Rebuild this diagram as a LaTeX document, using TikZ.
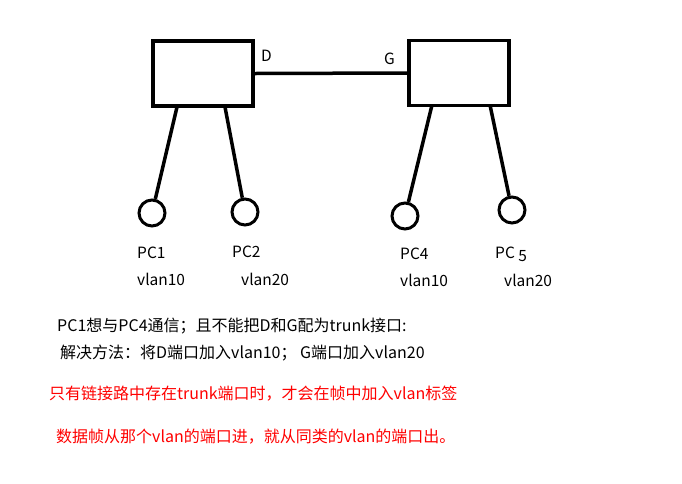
\documentclass[tikz,border=0pt]{standalone}
\usepackage{fontspec}
\setmainfont{Noto Sans CJK SC}
\begin{document}
\begin{tikzpicture}[x=1pt,y=-1pt,
  sw/.style={draw=black,line width=3.5pt,minimum width=100pt,minimum height=65pt,inner sep=0pt},
  pc/.style={draw=black,line width=3pt,circle,minimum size=26pt,inner sep=0pt},
  wire/.style={line width=3.5pt,black},
  lbl/.style={anchor=west,inner sep=0pt,font=\fontsize{15.5}{18}\selectfont},
  txt/.style={anchor=west,inner sep=0pt,font=\fontsize{16}{19}\selectfont},
  redtxt/.style={txt,text=red}]
\useasboundingbox (0,0) rectangle (682,483);
\node[sw] (s1) at (203,73.5) {};
\node[sw] (s2) at (459,73) {};
\draw[wire] (s1.east) -- (s2.west);
\node[lbl] (d) at (261,56) {D};
\node[lbl] (g) at (384,59) {G};
\node[pc] (p1) at (152,213) {};
\node[pc] (p2) at (245,212) {};
\node[pc] (p4) at (405,216) {};
\node[pc] (p5) at (512,210) {};
\coordinate (a1) at (177,107);
\coordinate (a2) at (225,107);
\coordinate (a4) at (432,105);
\coordinate (a5) at (490,105);
\draw[wire] (a1) -- (p1);
\draw[wire] (a2) -- (p2);
\draw[wire] (a4) -- (p4);
\draw[wire] (a5) -- (p5);
\node[lbl] (l1) at (137,253) {PC1};
\node[lbl] (l2) at (232,252) {PC2};
\node[lbl] (l4) at (400,254) {PC4};
\node[lbl] (l5) at (495,254) {PC \raisebox{-3pt}{5}};
\node[lbl] (v1) at (137,279) {vlan10};
\node[lbl] (v2) at (241,279) {vlan20};
\node[lbl] (v4) at (400,280) {vlan10};
\node[lbl] (v5) at (504,280) {vlan20};
\node[txt] (t1) at (57,326) {PC1想与PC4通信；且不能把D和G配为trunk接口:};
\node[txt] (t2) at (60,353) {解决方法：将D端口加入vlan10； G端口加入vlan20};
\node[redtxt] (t3) at (49,394) {只有链接路中存在trunk端口时，才会在帧中加入vlan标签};
\node[redtxt] (t4) at (56,437) {数据帧从那个vlan的端口进，就从同类的vlan的端口出。};
\end{tikzpicture}
\end{document}
